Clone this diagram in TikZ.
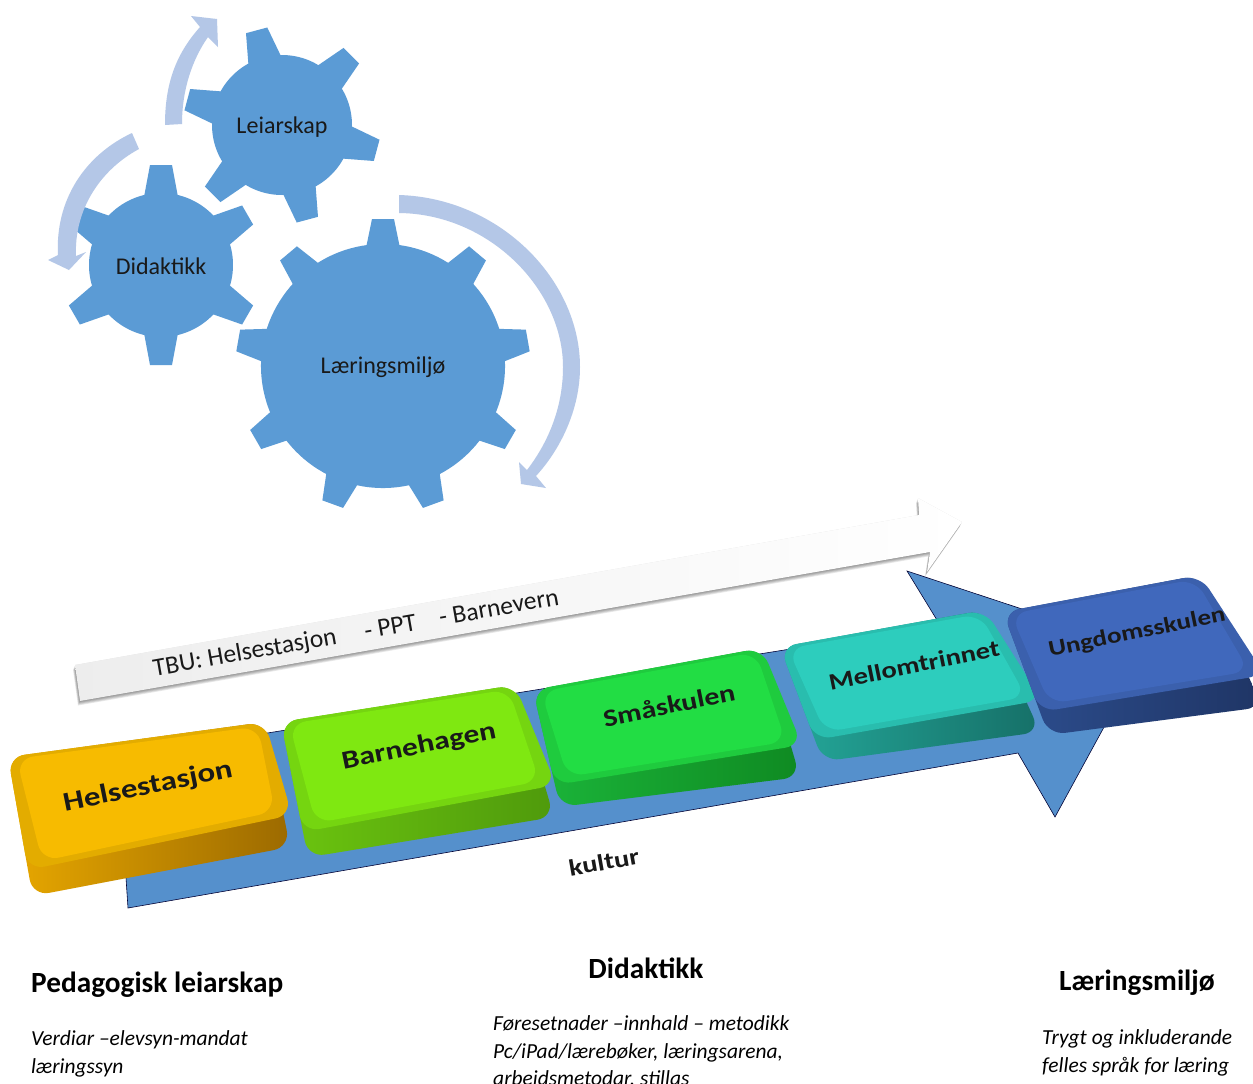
\documentclass[tikz,border=0pt]{standalone}
\usepackage{fontspec}
\setmainfont{Carlito}
\newfontfamily\keyfont[FakeStretch=1.22]{Carlito Bold}
\usetikzlibrary{calc}
\definecolor{gearblue}{HTML}{5B9BD5}
\definecolor{swirl}{HTML}{B4C7E7}
\definecolor{roadblue}{HTML}{5590CC}
\definecolor{helseside}{HTML}{E8A800}
\definecolor{helsedark}{HTML}{9C6A00}
\definecolor{helsetop}{HTML}{F7BB00}
\definecolor{barnside}{HTML}{6CC50F}
\definecolor{barndark}{HTML}{4F9A0C}
\definecolor{barntop}{HTML}{7FE811}
\definecolor{smaside}{HTML}{1BB53A}
\definecolor{smadark}{HTML}{0F8A22}
\definecolor{smatop}{HTML}{22DD44}
\definecolor{mellside}{HTML}{24A89A}
\definecolor{melldark}{HTML}{167068}
\definecolor{melltop}{HTML}{2DCDBD}
\definecolor{ungside}{HTML}{2D4E8F}
\definecolor{ungdark}{HTML}{1F3565}
\definecolor{ungtop}{HTML}{4068BC}
% gear: centre, rotation, teeth, root radius, tip radius
\newcommand{\gearwheel}[5]{
  \begin{scope}[shift={(#1)}, rotate=#2]
    \fill[gearfill] (0,0) circle [radius=#4];
    \foreach \a in {1,...,#3} {
      \fill[gearfill, rotate=\a*360/#3] (#4-4,-17) -- (#5,-11) -- (#5,11) -- (#4-4,17) -- cycle;
    }
  \end{scope}
}
% button: four corners, colour of the side (left, right), colour of the top
\newcommand{\keycap}[7]{
  \path[keybody, left color=#5, right color=#6] (#1) -- (#2) -- ($(#3)+(-2,32)$) -- ($(#1)!1.23!(#4)$) -- cycle;
  \fill[keybody, #7!92!black] (#1) -- (#2) -- (#3) -- (#4) -- cycle;
  \fill[keybody, #7] ($(#1)!.03!(#3)$) -- ($(#2)!.03!(#4)$) -- ($(#3)!.06!(#1)$) -- ($(#4)!.06!(#2)$) -- cycle;
}
% outline of the arrow above the buttons
\newcommand{\partnerarrow}{(75,665) -- (919,515) -- (918,498) -- (962,522) -- (927,572) -- (930,552) -- (80,701) -- cycle}
\begin{document}
\begin{tikzpicture}[x=0.03cm, y=-0.03cm]
\tikzset{%
  gearfill/.style  = {fill=gearblue},
  swirlfill/.style = {fill=swirl},
  keybody/.style   = {rounded corners=0.5cm},
  gearlabel/.style = {font=\fontsize{20.5}{24}\selectfont, text=black!90},
  keylabel/.style  = {font=\keyfont\fontsize{#1}{24}\selectfont, rotate=11.5, text=black!90},
  heading/.style   = {font=\bfseries\fontsize{25}{30}\selectfont, inner sep=0pt},
  bodytext/.style  = {font=\itshape\fontsize{18.3}{23.8}\selectfont, align=left, inner sep=0pt, anchor=north west}
}
\path[fill=white, use as bounding box] (0,0) rectangle (1253,1083);
\clip (0,0) rectangle (1253,1083);
% gears
\gearwheel{282,125}{45}{6}{70}{98}
\gearwheel{161,265}{30}{6}{72}{100}
\gearwheel{383,366}{10}{9}{122}{147}
\node[gearlabel] (leiarskap) at (282,127) {Leiarskap};
\node[gearlabel] (didaktikkgear) at (161,266) {Didaktikk};
\node[gearlabel] (miljogear) at (383,367) {Læringsmiljø};
% curved arrows
\fill[swirlfill] (165,125) .. controls (165,85) and (175,55) .. (200,27) -- (191,16) -- (217,19) -- (218,47) -- (208,37) .. controls (192,60) and (182,90) .. (182,124) -- cycle;
\fill[swirlfill] (132,133) .. controls (85,155) and (55,200) .. (58,255) -- (48,260) -- (69,270) -- (86,252) -- (76,256) .. controls (74,210) and (100,170) .. (139,149) -- cycle;
\fill[swirlfill] (399,195) .. controls (500,198) and (580,280) .. (580,367) .. controls (580,410) and (560,450) .. (536,476) -- (546,488) -- (521,484) -- (519,462) -- (527,470) .. controls (550,440) and (563,405) .. (563,367) .. controls (563,290) and (490,214) .. (399,213) -- cycle;
% arrow with the partners
\foreach \s in {1,...,5} {
  \fill[black, opacity=0.09, shift={(-0.4*\s,0.9*\s)}] \partnerarrow;
}
\fill[black, opacity=0.12] \partnerarrow;
\path[left color=gray!14, right color=white] \partnerarrow;
\node[font=\fontsize{21.8}{26}\selectfont, rotate=10, text=black!90] (partners) at (356,634) {TBU: Helsestasjon\hspace{0.9em} - PPT\hspace{0.7em} - Barnevern};
% main arrow
\draw[fill=roadblue, draw=black!80!blue, line width=0.5pt] (118,757) -- (940,625) -- (907,571) -- (1146,650) -- (1055,817) -- (1018,753) -- (128,908) -- cycle;
\node[font=\keyfont\fontsize{20}{24}\selectfont, rotate=10, text=black!90] (kultur) at (604,862) {kultur};
% buttons
\keycap{8,757}{265,722}{292,815}{28,870}{helseside}{helsedark}{helsetop}
\keycap{281,722}{515,685}{556,785}{303,832}{barnside}{barndark}{barntop}
\keycap{533,690}{762,648}{802,745}{555,785}{smaside}{smadark}{smatop}
\keycap{780,647}{985,610}{1042,700}{815,740}{mellside}{melldark}{melltop}
\keycap{1003,612}{1200,575}{1265,675}{1040,712}{ungside}{ungdark}{ungtop}
\node[keylabel=23] (helsestasjon) at (148,787) {Helsestasjon};
\node[keylabel=22] (barnehagen) at (419,747) {Barnehagen};
\node[keylabel=21] (smaskulen) at (669,705) {Småskulen};
\node[keylabel=20] (mellomtrinnet) at (914,665) {Mellomtrinnet};
\node[keylabel=19] (ungdomsskulen) at (1137,633) {Ungdomsskulen};
% columns
\node[heading, anchor=west] (pedhead) at (31,985) {Pedagogisk leiarskap};
\node[heading] (didhead) at (646,968) {Didaktikk};
\node[heading] (larhead) at (1137,983) {Læringsmiljø};
\node[bodytext] (pedtext) at (31,1030) {Verdiar –elevsyn-mandat\\læringssyn};
\node[bodytext] (didtext) at (493,1015) {Føresetnader –innhald – metodikk\\Pc/iPad/lærebøker, læringsarena,\\arbeidsmetodar, stillas};
\node[bodytext] (lartext) at (1042,1029) {Trygt og inkluderande\\felles språk for læring};
\end{tikzpicture}
\end{document}
